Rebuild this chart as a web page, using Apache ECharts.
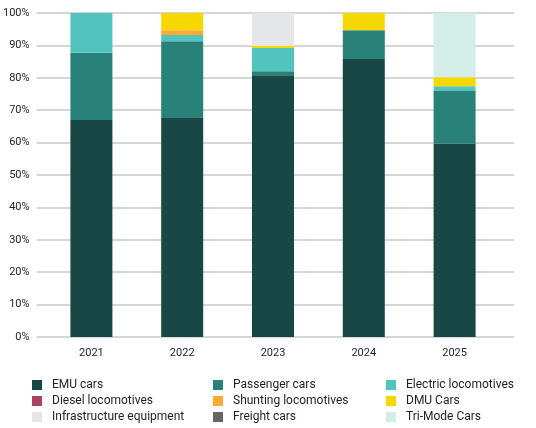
<!DOCTYPE html>
<html>
<head>
<meta charset="utf-8">
<script src="https://cdn.jsdelivr.net/npm/echarts@6/dist/echarts.min.js"></script>
<style>
  html, body { margin: 0; padding: 0; background: #fff; }
  #main { width: 536px; height: 428px; }
</style>
</head>
<body>
<div id="main"></div>
<script>
var years = ['2021', '2022', '2023', '2024', '2025'];
var yTicks = [0, 10, 20, 30, 40, 50, 60, 70, 80, 90, 100];

// share of each type per year, in %
var emuCars       = [67.0, 67.8, 80.8, 85.8, 59.7];
var passengerCars = [20.7, 23.5, 1.2, 8.9, 16.2];
var electricLocos = [12.3, 1.9, 7.2, 0, 1.5];
var dieselLocos   = [0, 0, 0, 0, 0];
var shuntingLocos = [0, 1.5, 0, 0, 0];
var dmuCars       = [0, 5.3, 0.6, 5.3, 2.8];
var infraEquip    = [0, 0, 10.2, 0, 0];
var freightCars   = [0, 0, 0, 0, 0];
var triModeCars   = [0, 0, 0, 0, 19.8];

var seriesDefs = [
    { name: 'EMU cars', data: emuCars, color: '#174846' },
    { name: 'Passenger cars', data: passengerCars, color: '#29827a' },
    { name: 'Electric locomotives', data: electricLocos, color: '#53c4bd' },
    { name: 'Diesel locomotives', data: dieselLocos, color: '#a8435f' },
    { name: 'Shunting locomotives', data: shuntingLocos, color: '#fba932' },
    { name: 'DMU Cars', data: dmuCars, color: '#f7d700' },
    { name: 'Infrastructure equipment', data: infraEquip, color: '#e5e6e8' },
    { name: 'Freight cars', data: freightCars, color: '#666666' },
    { name: 'Tri-Mode Cars', data: triModeCars, color: '#d3ede8' }
];

var myChart = echarts.init(document.getElementById('main'));

var font = 'Roboto';
var textColor = '#1d1d2b';

function legendCol(left, names) {
    return {
        orient: 'vertical',
        left: left,
        top: 379,
        padding: 0,
        itemWidth: 10,
        itemHeight: 10,
        itemGap: 4,
        icon: 'rect',
        data: names,
        textStyle: { fontFamily: font, fontSize: 12, color: textColor, padding: [0, 0, 0, 5] },
        selectedMode: false
    };
}

var option = {
    animation: false,
    textStyle: { fontFamily: font },
    grid: [
        // y axis + gridlines (wider than the bars)
        { left: 35, right: 22, top: 13, bottom: 91 },
        // bars
        { left: 46, right: 36, top: 13, bottom: 91 }
    ],
    legend: [
        legendCol(32, ['EMU cars', 'Diesel locomotives', 'Infrastructure equipment']),
        legendCol(213, ['Passenger cars', 'Shunting locomotives', 'Freight cars']),
        legendCol(386, ['Electric locomotives', 'DMU Cars', 'Tri-Mode Cars'])
    ],
    xAxis: [
        { gridIndex: 0, type: 'value', min: 0, max: 1, show: false },
        {
            gridIndex: 1,
            type: 'category',
            data: years,
            axisLine: { show: false },
            axisTick: { show: false },
            axisLabel: { fontFamily: font, fontSize: 11, color: textColor, margin: 11 }
        }
    ],
    yAxis: [
        {
            gridIndex: 0,
            type: 'value',
            min: 0,
            max: 100,
            interval: 10,
            axisLine: { show: false },
            axisTick: { show: false },
            splitLine: { lineStyle: { color: '#c8c8c8', width: 1.5 } },
            axisLabel: {
                fontFamily: font, fontSize: 11, color: textColor, margin: 7,
                formatter: function (v) { return yTicks.indexOf(v) >= 0 ? v + '%' : ''; }
            }
        },
        { gridIndex: 1, type: 'value', min: 0, max: 100, show: false }
    ],
    series: seriesDefs.map(function (s) {
        return {
            name: s.name,
            type: 'bar',
            stack: 'total',
            xAxisIndex: 1,
            yAxisIndex: 1,
            barWidth: 42,
            data: s.data,
            itemStyle: { color: s.color }
        };
    })
};

myChart.setOption(option);
</script>
</body>
</html>
